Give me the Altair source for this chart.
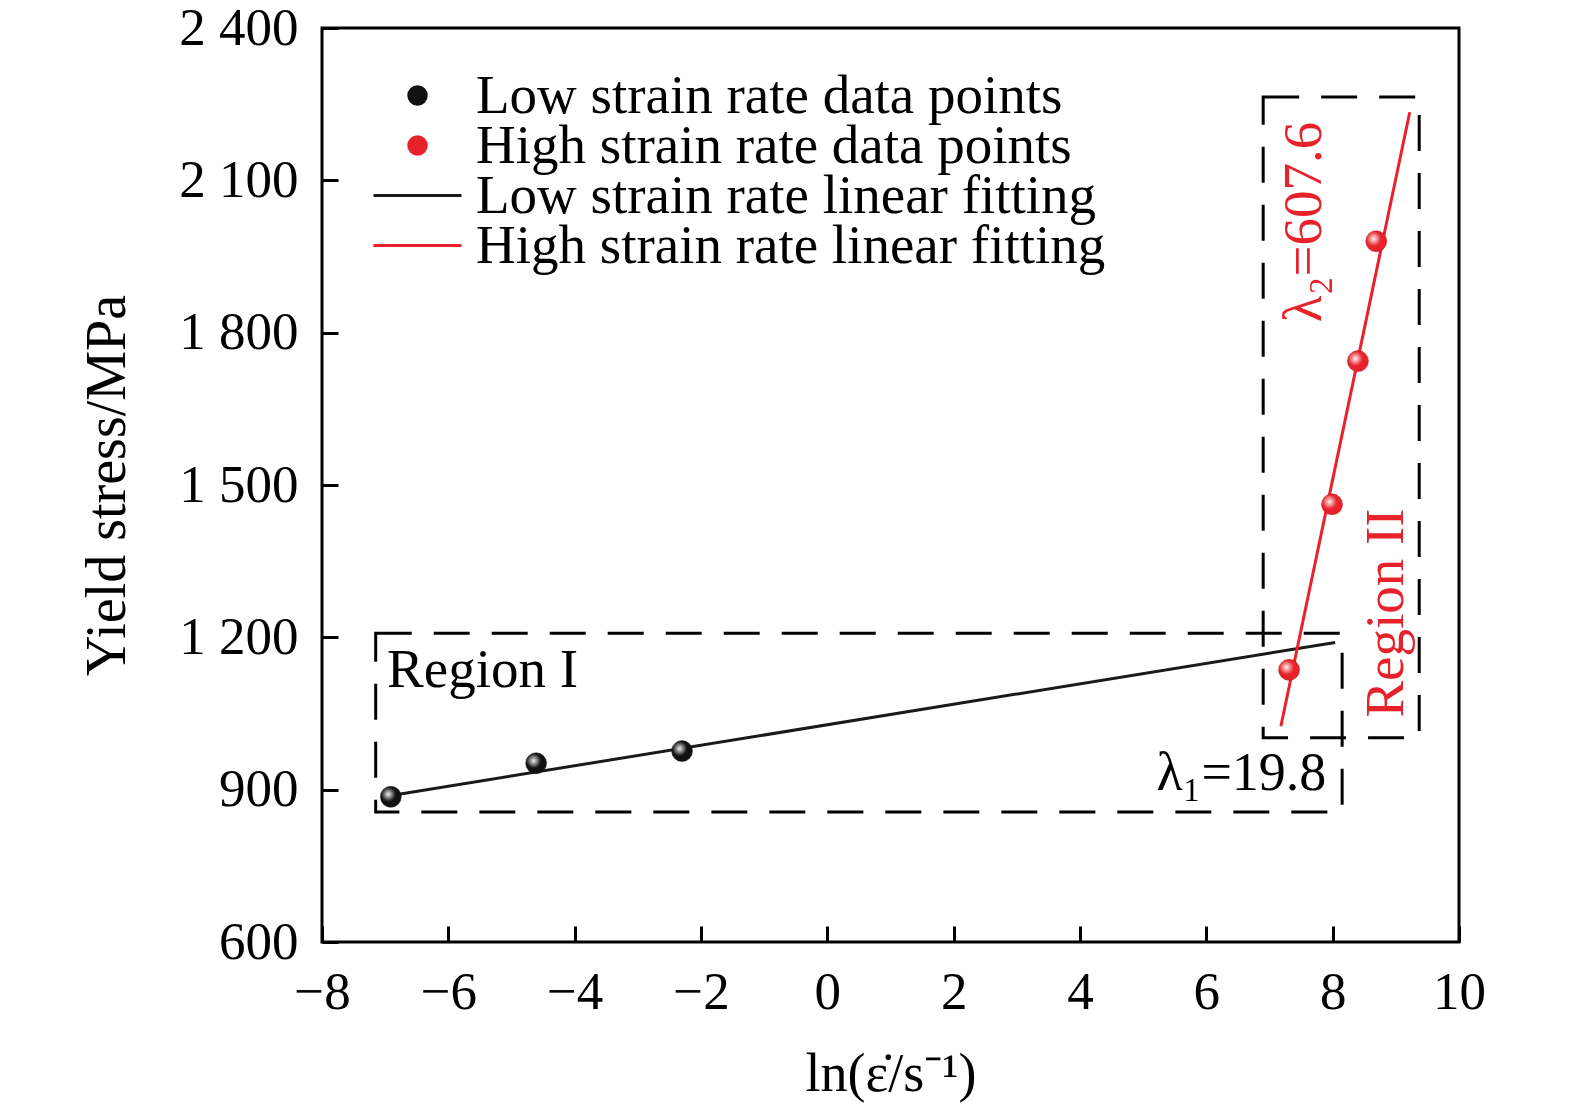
import altair as alt
import pandas as pd

FONT = "Liberation Serif"
RED = "#e8222b"
BLACK = "#111111"

# data points
low_x = [-6.91, -4.61, -2.30]
low_y = [886, 952, 976]
high_x = [7.31, 7.99, 8.40, 8.69]
high_y = [1136, 1462, 1744, 1980]

# linear fit end points
low_fit_x = [-6.88, 8.04]
low_fit_y = [889, 1190]
high_fit_x = [7.18, 9.22]
high_fit_y = [1025, 2234]

# dashed region boxes
box_x = [-7.15, 6.90]
box_x2 = [8.15, 9.37]
box_y = [856, 1002]
box_y2 = [1208, 2264]

x_ticks = [-8, -6, -4, -2, 0, 2, 4, 6, 8, 10]
y_ticks = [600, 900, 1200, 1500, 1800, 2100, 2400]

pt_names = ["Low strain rate data points", "High strain rate data points"]
fit_names = ["Low strain rate linear fitting", "High strain rate linear fitting"]

low_pts = pd.DataFrame({"x": low_x, "y": low_y, "s": [pt_names[0]] * len(low_x)})
high_pts = pd.DataFrame({"x": high_x, "y": high_y, "s": [pt_names[1]] * len(high_x)})
low_fit = pd.DataFrame({"x": low_fit_x, "y": low_fit_y, "s": [fit_names[0]] * 2})
high_fit = pd.DataFrame({"x": high_fit_x, "y": high_fit_y, "s": [fit_names[1]] * 2})
all_pts = pd.concat([low_pts, high_pts], ignore_index=True)
boxes = pd.DataFrame({"x": box_x, "x2": box_x2, "y": box_y, "y2": box_y2})

xs = alt.Scale(domain=[-8, 10], nice=False, zero=False)
ys = alt.Scale(domain=[600, 2400], nice=False, zero=False)

X = alt.X("x:Q", scale=xs, title="ln(ε̇/s⁻¹)",
          axis=alt.Axis(values=x_ticks, format="d", tickSize=16, offset=-16, domain=False,
                        tickWidth=3, tickColor="black", labelPadding=24,
                        labelFontSize=53, labelFont=FONT, labelColor="black",
                        titleFontSize=54, titleFont=FONT, titleFontWeight="normal",
                        titleColor="black", titlePadding=28, grid=False,
                        labelFlush=False))
Y = alt.Y("y:Q", scale=ys, title="Yield stress/MPa",
          axis=alt.Axis(values=y_ticks, tickSize=16, offset=-16, domain=False,
                        tickWidth=3, tickColor="black", labelPadding=24,
                        labelFontSize=53, labelFont=FONT, labelColor="black",
                        labelExpr="replace(format(datum.value, ','), ',', ' ')",
                        titleFontSize=56, titleFont=FONT, titleFontWeight="normal",
                        titleColor="black", titlePadding=42, grid=False,
                        labelFlush=False))
Xp = alt.X("x:Q", scale=xs)
Yp = alt.Y("y:Q", scale=ys)


def leg(y, kind):
    common = dict(title=None, orient="none", legendX=68, legendY=y, padding=0,
                  labelFontSize=55, labelFont=FONT, labelColor="black",
                  labelOffset=31, labelLimit=1000)
    if kind == "pt":
        return alt.Legend(symbolType="circle", symbolSize=420, symbolStrokeWidth=0, **common)
    return alt.Legend(symbolType="M-2,0H2", symbolSize=1936, symbolStrokeWidth=3, **common)


box_layer = alt.Chart(boxes).mark_rect(
    fill="transparent", stroke="black", strokeWidth=3, strokeDash=[36, 22]
).encode(x=Xp, x2="x2:Q", y=Yp, y2="y2:Q")

low_line = alt.Chart(low_fit).mark_line(strokeWidth=3).encode(
    x=X, y=Y,
    stroke=alt.Stroke("s:N", scale=alt.Scale(domain=[fit_names[0]], range=["#1a1a1a"]),
                      legend=leg(140, "line")))
high_line = alt.Chart(high_fit).mark_line(strokeWidth=3).encode(
    x=Xp, y=Yp,
    stroke=alt.Stroke("s:N", scale=alt.Scale(domain=[fit_names[1]], range=[RED]),
                      legend=leg(190, "line")))

low_pt = alt.Chart(low_pts).mark_point(filled=True, size=440, opacity=1,
                                        stroke="#222222", strokeWidth=0.5).encode(
    x=Xp, y=Yp,
    fill=alt.Fill("s:N", scale=alt.Scale(domain=[pt_names[0]], range=[BLACK]),
                  legend=leg(40, "pt")))
high_pt = alt.Chart(high_pts).mark_point(filled=True, size=440, opacity=1,
                                          stroke="#b01018", strokeWidth=0.5).encode(
    x=Xp, y=Yp,
    fill=alt.Fill("s:N", scale=alt.Scale(domain=[pt_names[1]], range=[RED]),
                  legend=leg(90, "pt")))

hl = alt.Gradient(gradient="radial",
                  stops=[alt.GradientStop(offset=0, color="rgba(255,255,255,0.95)"),
                         alt.GradientStop(offset=1, color="rgba(255,255,255,0)")],
                  x1=0.38, y1=0.38, r1=0, x2=0.38, y2=0.38, r2=0.35)
hl_layer = alt.Chart(all_pts).mark_circle(size=440, fill=hl, opacity=1).encode(x=Xp, y=Yp)

# annotations
ann_text = ["Region I", "λ₁=19.8"]
ann_x = [-6.97, 7.90]
ann_y = [1102, 899]
ann = pd.DataFrame({"t": ann_text, "x": ann_x, "y": ann_y})

t1 = alt.Chart(ann.iloc[[0]]).mark_text(font=FONT, fontSize=55, color="black",
                                         align="left", baseline="alphabetic").encode(
    x=Xp, y=Yp, text="t:N")
t2 = alt.Chart(ann.iloc[[1]]).mark_text(font=FONT, fontSize=54, color="black",
                                         align="right", baseline="alphabetic").encode(
    x=Xp, y=Yp, text="t:N")

red_text = ["λ₂=607.6", "Region II"]
red_x = [7.55, 8.84]
red_y = [2018, 1248]
red = pd.DataFrame({"t": red_text, "x": red_x, "y": red_y})
t3 = alt.Chart(red).mark_text(font=FONT, fontSize=55, color=RED, angle=270,
                              align="center", baseline="middle").encode(
    x=Xp, y=Yp, text="t:N")

chart = alt.layer(box_layer, low_line, high_line, low_pt, high_pt, hl_layer, t1, t2, t3
).resolve_scale(fill="independent", stroke="independent").resolve_legend(
    fill="independent", stroke="independent"
).properties(
    width=1137, height=914,
    autosize=alt.AutoSizeParams(type="none"),
    padding={"left": 314, "top": 20, "right": 70, "bottom": 162},
    background="white",
).configure_view(stroke="black", strokeWidth=3)

chart.save("out.html", embed_options={"renderer": "svg", "actions": False})
